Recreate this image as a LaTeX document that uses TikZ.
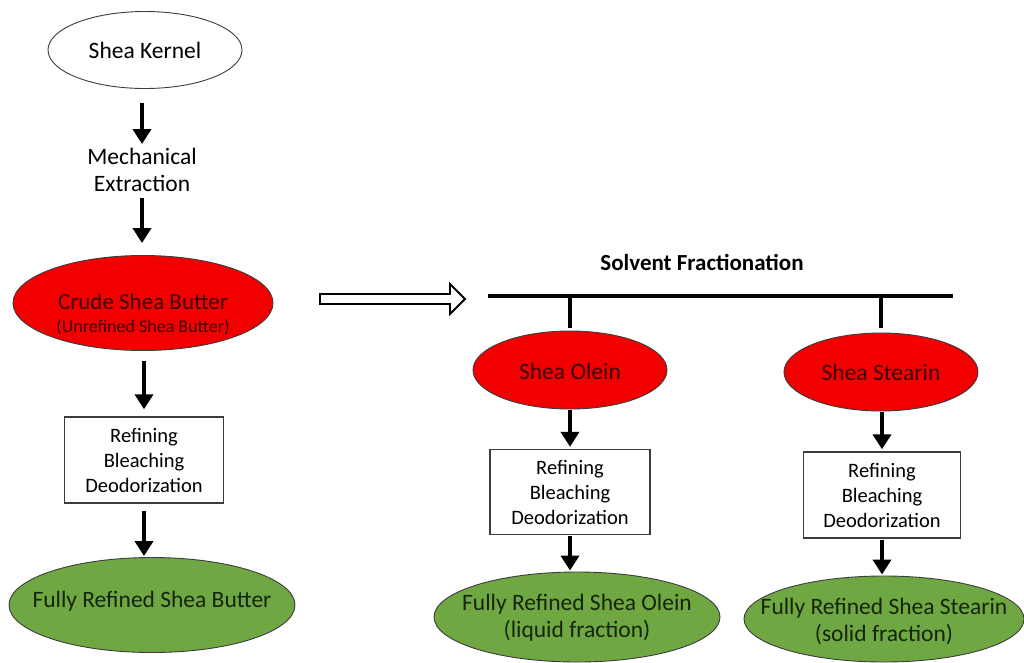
\documentclass[tikz,border=0pt]{standalone}
\usepackage{fontspec}
\setmainfont{Carlito}
\usetikzlibrary{shapes.geometric,arrows.meta,calc}
\definecolor{redfill}{HTML}{F20000}
\definecolor{redtext}{HTML}{3A0000}
\definecolor{greenfill}{HTML}{6FA843}
\definecolor{greentext}{HTML}{15240A}
\definecolor{edge}{HTML}{3C3C3C}
\newcommand{\ctext}[2][0pt]{\makebox[0pt][c]{\raisebox{#1}[0pt][0pt]{\begin{tabular}{@{}c@{}}#2\end{tabular}}}}
\begin{document}
\begin{tikzpicture}[x=1pt,y=-1pt,
  base/.style={font=\fontsize{23.5}{27}\selectfont, align=center, inner sep=0pt},
  whiteell/.style={base, ellipse, draw=edge, line width=0.9pt, fill=white},
  redell/.style={base, ellipse, draw=edge, line width=0.9pt, fill=redfill, text=redtext},
  greenell/.style={base, ellipse, draw=edge, line width=0.9pt, fill=greenfill, text=greentext},
  procbox/.style={base, rectangle, draw=edge, line width=1.4pt, fill=white, font=\fontsize{20.5}{25}\selectfont},
  flow/.style={line width=4.5pt, -{Triangle[length=15pt,width=18pt]}},
  bar/.style={line width=4.5pt}
]
\useasboundingbox[fill=white] (0,0) rectangle (1024,662);

% left column
\node[whiteell, minimum width=194, minimum height=77] (kernel) at (145,50) {\ctext[-9pt]{Shea Kernel}};
\node[base] (mech) at (142,170) {Mechanical\\Extraction};
\node[redell, minimum width=260, minimum height=95] (crude) at (143,303)
  {\ctext[-19pt]{\fontsize{23}{26}\selectfont Crude Shea Butter\\[-4pt]\fontsize{18}{20}\selectfont (Unrefined Shea Butter)}};
\node[procbox, minimum width=159, minimum height=86] (box1) at (144,460) {Refining\\Bleaching\\Deodorization};
\node[greenell, minimum width=286, minimum height=95] (full1) at (152,605) {\ctext[-3pt]{Fully Refined Shea Butter}};

\draw[flow, shorten <=14pt, shorten >=4pt] (kernel.south -| mech.north) -- (mech.north);
\draw[flow, shorten <=6pt, shorten >=12pt] (mech.south) -- (mech.south |- crude.north);
\draw[flow, shorten <=10pt, shorten >=7pt] (crude.south -| box1.north) -- (box1.north);
\draw[flow, shorten <=7pt, shorten >=1pt] (box1.south) -- (box1.south |- full1.north);

% hollow arrow
\draw[line width=1.8pt, fill=white] (320,294) -- (450,294) -- (450,284) -- (465,299) -- (450,314) -- (450,304) -- (320,304) -- cycle;

% solvent fractionation
\node[base, font=\fontsize{23}{26}\selectfont\bfseries] (solv) at (702,262) {Solvent Fractionation};
\coordinate (barL) at (488,296);
\coordinate (barR) at (953,296);
\draw[bar] (barL) -- (barR);

\node[redell, minimum width=194, minimum height=78] (olein) at (570,370) {\ctext[-10pt]{Shea Olein}};
\node[redell, minimum width=194, minimum height=78] (stearin) at (881,372) {\ctext[-9pt]{Shea Stearin}};
\draw[bar, shorten >=3pt] (olein.north |- barL) -- (olein.north);
\draw[bar, shorten >=5pt] (stearin.north |- barL) -- (stearin.north);

\node[procbox, minimum width=160, minimum height=85] (box2) at (570,492) {Refining\\Bleaching\\Deodorization};
\node[procbox, minimum width=157, minimum height=86] (box3) at (882,495) {Refining\\Bleaching\\Deodorization};

\node[greenell, minimum width=286, minimum height=90] (full2) at (577,617) {\ctext[-8pt]{Fully Refined Shea Olein\\(liquid fraction)}};
\node[greenell, minimum width=280, minimum height=86] (full3) at (884,619) {\ctext[-10pt]{Fully Refined Shea Stearin\\(solid fraction)}};

\draw[flow, shorten <=1pt, shorten >=2pt] (olein.south) -- (olein.south |- box2.north);
\draw[flow, shorten <=1pt, shorten >=2pt] (stearin.south -| box3.north) -- (box3.north);
\draw[flow, shorten <=1pt, shorten >=1pt] (box2.south) -- (box2.south |- full2.north);
\draw[flow, shorten <=1pt, shorten >=1pt] (box3.south) -- (box3.south |- full3.north);
\end{tikzpicture}
\end{document}
